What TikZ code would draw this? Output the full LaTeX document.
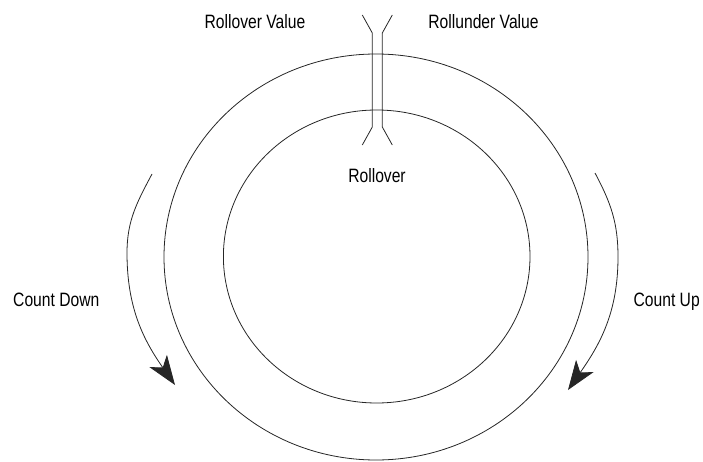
\documentclass[tikz,border=0pt]{standalone}
\usepackage{fontspec}
\setmainfont[FakeStretch=0.81]{Liberation Sans}
\usetikzlibrary{arrows.meta, positioning}

\begin{document}
\begin{tikzpicture}[x=0.75pt, y=0.75pt, font=\fontsize{14.5}{17}\selectfont,
	ln/.style={line width=0.6pt, black!85},
	arr/.style={line width=0.6pt, black!85, -{Stealth[length=22pt, width=16pt, inset=6pt]}},
	lbl/.style={inner sep=0pt, anchor=base, text=black}]
	\useasboundingbox (0,0) rectangle (703,461);

	% ---------- rings ----------
	\draw[ln] (376,204) ellipse [x radius=212, y radius=203];
	\draw[ln] (376.7,204.5) ellipse [x radius=153.3, y radius=146.5];

	% ---------- rollover mark ----------
	\foreach \x/\s in {372.3/-1, 382.3/1}{
		\draw[ln] (\x+\s*10,446) -- (\x,428) -- (\x,334) -- (\x+\s*10,316);
	}

	% ---------- labels ----------
	\node[lbl] (rov) at (255,432.7) {Rollover Value};
	\node[lbl] (ruv) at (483.5,432.7) {Rollunder Value};
	\node[lbl] (ro)  at (377,278) {Rollover};
	\node[lbl] (cd)  at (56.3,154.3) {Count Down};
	\node[lbl] (cu)  at (666.7,155) {Count Up};

	% ---------- count arrows ----------
	\coordinate (cd1) at (152,287);
	\coordinate (cd2) at (127,208);
	\coordinate (cd3) at (175,76);
	\coordinate (cu1) at (595,288);
	\coordinate (cu2) at (618,204);
	\coordinate (cu3) at (568,71);
	\draw[arr] (cd1) to[out=-118, in=90] (cd2) to[out=-90, in=125] (cd3);
	\draw[arr] (cu1) to[out=-62, in=90] (cu2) to[out=-90, in=55] (cu3);
\end{tikzpicture}
\end{document}
